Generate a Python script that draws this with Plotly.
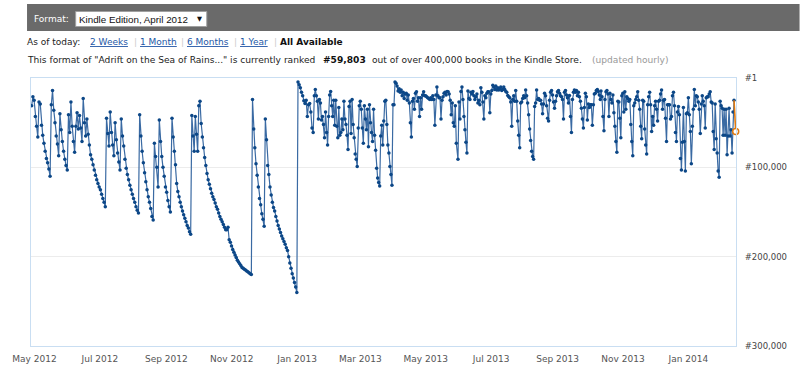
import plotly.graph_objects as go
import pandas as pd

# ---------------- data (sales rank, in thousands) ----------------
seg1_start, seg1_end = "2012-04-28 09:00", "2012-09-04 18:00"
rank_k_seg1 = [31, 21, 25, 43, 54, 66, 27, 29, 53, 64, 73, 82, 90, 95, 102, 110, 30, 14, 36, 50,
               65, 74, 87, 40, 58, 71, 82, 91, 98, 103, 41, 61, 27, 54, 71, 83, 54, 39, 57, 42,
               56, 71, 23, 50, 65, 46, 63, 75, 86, 91, 97, 103, 109, 114, 118, 122, 125, 130, 135, 139,
               144, 45, 62, 76, 38, 61, 75, 87, 50, 69, 84, 94, 103, 46, 65, 76, 91, 101, 108, 114,
               120, 125, 130, 135, 139, 144, 148, 151, 41, 65, 82, 95, 106, 116, 125, 133, 139, 146, 155, 159,
               73, 88, 100, 122, 47, 71, 88, 100, 110, 122, 128, 137, 144, 150]

seg2_start, seg2_end = "2012-09-06 07:00", "2013-01-17 02:00"
rank_k_seg2 = [45, 66, 82, 97, 118, 127, 133, 139, 144, 149, 153, 157, 161, 165, 168, 172, 175, 42, 65, 82,
               43, 63, 82, 31, 26, 51, 66, 78, 89, 98, 107, 114, 119, 124, 129, 133, 136, 140, 144, 147,
               151, 155, 158, 161, 164, 167, 170, 170, 167, 181, 184, 188, 192, 195, 198, 201, 204, 206, 208, 210,
               212, 213, 214, 215, 216, 217, 218, 219, 220, 24, 57, 78, 96, 109, 122, 135, 142, 152, 158, 166,
               46, 69, 98, 108, 122, 131, 139, 145, 149, 155, 160, 165, 169, 173, 177, 180, 183, 186, 190, 193,
               200, 207, 213, 219, 224, 229, 234, 240, 4.5, 7.5, 11, 16, 20, 25.5, 28.5, 25, 43, 30, 28.5, 38,
               56, 61, 20]

seg3_start, seg3_end = "2013-01-18 00:00", "2013-05-29 13:00"
rank_k_seg3 = [13, 20, 26, 46, 24, 28, 47, 43, 52, 67, 38, 61, 75, 43, 19, 15, 31, 43, 25, 53,
               25, 54, 67, 33, 64, 61, 46, 58, 26, 46, 52, 64, 80, 32, 26, 62, 24, 52, 67, 85,
               91, 99, 56, 31, 26, 35, 56, 73, 31, 46, 58, 35, 77, 30, 50, 61, 71, 35, 64, 81,
               101, 112, 117, 121, 65, 53, 75, 48, 26, 25, 52, 75, 84, 99, 108, 120, 30, 30, 4.5, 6,
               9, 14.5, 12, 16, 13.5, 20, 16, 23, 18, 17, 25, 19, 28, 50, 66, 26, 23, 35, 17, 15.5,
               26, 22, 43, 22, 35, 19, 15.5, 20, 20, 21, 22, 23, 24, 22, 24, 20, 24, 53, 19, 10,
               20, 22, 22, 46, 25, 21, 17, 16, 19, 15, 15.5, 18, 25, 41, 28, 50, 54, 31, 73]

seg4_start, seg4_end = "2013-05-31 02:00", "2013-10-10 21:00"
rank_k_seg4 = [91, 27, 46, 15, 10, 24, 43, 58, 72, 84, 14.5, 23, 24, 16, 18, 15, 20, 24, 21, 18,
               28, 25, 30, 11, 16, 27, 46, 20, 22, 17, 15.5, 15.5, 39, 18, 14, 8, 10, 13, 9, 13.5,
               11, 13.5, 12, 10, 14, 13, 10, 13, 15, 16, 19.5, 21, 22, 27, 54, 24, 20, 26, 14, 26,
               48, 64, 78, 28, 27, 23, 20, 22, 13.5, 20, 28, 41, 57, 70, 82, 88, 91, 32, 28, 13.5,
               24, 23, 25, 25, 29, 40, 29, 17, 20, 31, 45, 48, 25, 16, 14, 19, 27, 34, 26, 20,
               15.5, 14, 17, 20, 21, 24, 46, 16, 14, 19, 22, 28, 19.5, 43, 61, 24, 16, 13.5, 16, 14,
               20, 16, 21, 26, 34, 46, 56, 33, 17, 21, 47, 29, 33, 30, 30, 53, 30, 18, 17, 14,
               13, 15, 19, 24]

seg5_start, seg5_end = "2013-10-11 12:00", "2014-02-12 15:00"
rank_k_seg5 = [14.5, 21, 43, 59, 24, 15.5, 14, 18, 43, 17, 24, 28, 19, 39, 54, 71, 83, 26, 27, 45,
               67, 20, 17, 38, 15.5, 35, 21, 23, 26, 24, 52, 71, 87, 31, 28, 24, 21, 15.5, 25, 35,
               54, 68, 25, 26, 57, 75, 85, 30, 21, 16, 30, 60, 43, 53, 31, 26, 35, 48, 26, 25,
               18, 13.5, 35, 25, 24, 45, 71, 30, 30, 30, 46, 43, 20, 16, 31, 61, 71, 38, 32, 41,
               90, 103, 72, 33, 71, 104, 40, 39, 22, 41, 60, 96, 54, 35, 13, 31, 20, 21, 27, 35,
               62, 29, 20, 26, 31, 56, 22, 21, 21, 18, 15.5, 27, 28, 60, 80, 29, 68, 84, 104, 111,
               26, 31, 34, 64, 35, 64, 35, 86, 65, 34, 65, 58, 84, 38, 25]

current_date = "2014-02-14 04:00"
current_rank = 59803

x_tick_dates = ["2012-05-01", "2012-07-01", "2012-09-01", "2012-11-01", "2013-01-01", "2013-03-01",
                "2013-05-01", "2013-07-01", "2013-09-01", "2013-11-01", "2014-01-01"]
x_tick_labels = ["May 2012", "Jul 2012", "Sep 2012", "Nov 2012", "Jan 2013", "Mar 2013",
                 "May 2013", "Jul 2013", "Sep 2013", "Nov 2013", "Jan 2014"]
y_tick_vals = [0, 100000, 200000, 300000]
y_tick_labels = ["#1", "#100,000", "#200,000", "#300,000"]

# ---------------- build series ----------------
segments = [(seg1_start, seg1_end, rank_k_seg1), (seg2_start, seg2_end, rank_k_seg2),
            (seg3_start, seg3_end, rank_k_seg3), (seg4_start, seg4_end, rank_k_seg4),
            (seg5_start, seg5_end, rank_k_seg5)]
dates, ranks = [], []
for s, e, vals in segments:
    dates += list(pd.date_range(s, e, periods=len(vals)))
    ranks += [v * 1000 for v in vals]

W, H = 800, 378
L, R, T, B = 26, 736, 78, 346


def xp(px):
    return (px - L) / (R - L)


def yp(py):
    return (B - py) / (B - T)


fig = go.Figure()
fig.add_trace(go.Scatter(
    x=dates, y=ranks, mode="lines+markers",
    line=dict(color="#3a6aa3", width=1.2),
    marker=dict(color="#0c4787", size=3.5),
    hoverinfo="skip", showlegend=False))
fig.add_trace(go.Scatter(
    x=[dates[-1], pd.Timestamp(current_date)], y=[ranks[-1], current_rank],
    mode="lines", line=dict(color="#e07a10", width=1.6),
    hoverinfo="skip", showlegend=False, cliponaxis=False))
fig.add_trace(go.Scatter(
    x=[pd.Timestamp(current_date)], y=[current_rank], mode="markers",
    marker=dict(color="white", size=6, line=dict(color="#e07a10", width=1.5)),
    hoverinfo="skip", showlegend=False, cliponaxis=False))

font_main = "DejaVu Sans"
fig.update_layout(
    width=W, height=H,
    margin=dict(l=L, r=W - R, t=T, b=H - B, pad=0),
    paper_bgcolor="white", plot_bgcolor="white",
    xaxis=dict(
        type="date", range=["2012-04-27 18:00", "2014-02-14 11:00"],
        tickvals=x_tick_dates, ticktext=x_tick_labels,
        showgrid=False, zeroline=False, ticks="",
        showline=True, mirror=True, linecolor="#c9def2", linewidth=1,
        tickfont=dict(family=font_main, size=9, color="#555555"),
        ticklabelstandoff=4),
    yaxis=dict(
        range=[300000, 0], side="right",
        tickvals=y_tick_vals, ticktext=y_tick_labels,
        showgrid=True, gridcolor="#ececec", gridwidth=1, zeroline=False, ticks="",
        showline=True, mirror=True, linecolor="#c9def2", linewidth=1,
        tickfont=dict(family=font_main, size=8.5, color="#444444"),
        ticklabelstandoff=6),
)

# header bar and select box
fig.add_shape(type="rect", xref="paper", yref="paper",
              x0=xp(22), x1=xp(800), y0=yp(31), y1=yp(4),
              fillcolor="#6a6a6a", line=dict(width=0), layer="below")
fig.add_shape(type="rect", xref="paper", yref="paper",
              x0=xp(71), x1=xp(203), y0=yp(26.5), y1=yp(11.5),
              fillcolor="white", line=dict(color="#a0a0a0", width=1))


def label(px, py, text, size=9, color="#222222", family=font_main):
    fig.add_annotation(xref="paper", yref="paper", x=xp(px), y=yp(py),
                       xanchor="left", yanchor="middle", showarrow=False,
                       text=text, font=dict(family=family, size=size, color=color))


label(27, 19, "Format:", size=9, color="white")
label(72, 19, "Kindle Edition, April 2012", size=9.8, color="#111111", family="Liberation Sans")
label(191, 18.5, "▼", size=6.5, color="#111111")

label(20, 42, "As of today:")
link = "#2457a6"
label(83, 42, "<u>2 Weeks</u>", color=link)
label(128, 42, "|", color="#cccccc")
label(134, 42, "<u>1 Month</u>", color=link)
label(175, 42, "|", color="#cccccc")
label(181, 42, "<u>6 Months</u>", color=link)
label(228, 42, "|", color="#cccccc")
label(234, 42, "<u>1 Year</u>", color=link)
label(269, 42, "|", color="#cccccc")
label(275, 42, "<b>All Available</b>", color="#111111")

label(20, 60, "This format of \"Adrift on the Sea of Rains...\" is currently ranked", size=9.1)
label(318, 60, "<b>#59,803</b>", color="#111111", size=9.1)
label(367, 60, "out of over 400,000 books in the Kindle Store.", size=9.1)
label(589, 60, "(updated hourly)", color="#999999", size=9.1)

fig.write_html("out.html", config={"displayModeBar": False},
               post_script="document.body.style.margin='0';document.body.style.overflow='hidden';")
